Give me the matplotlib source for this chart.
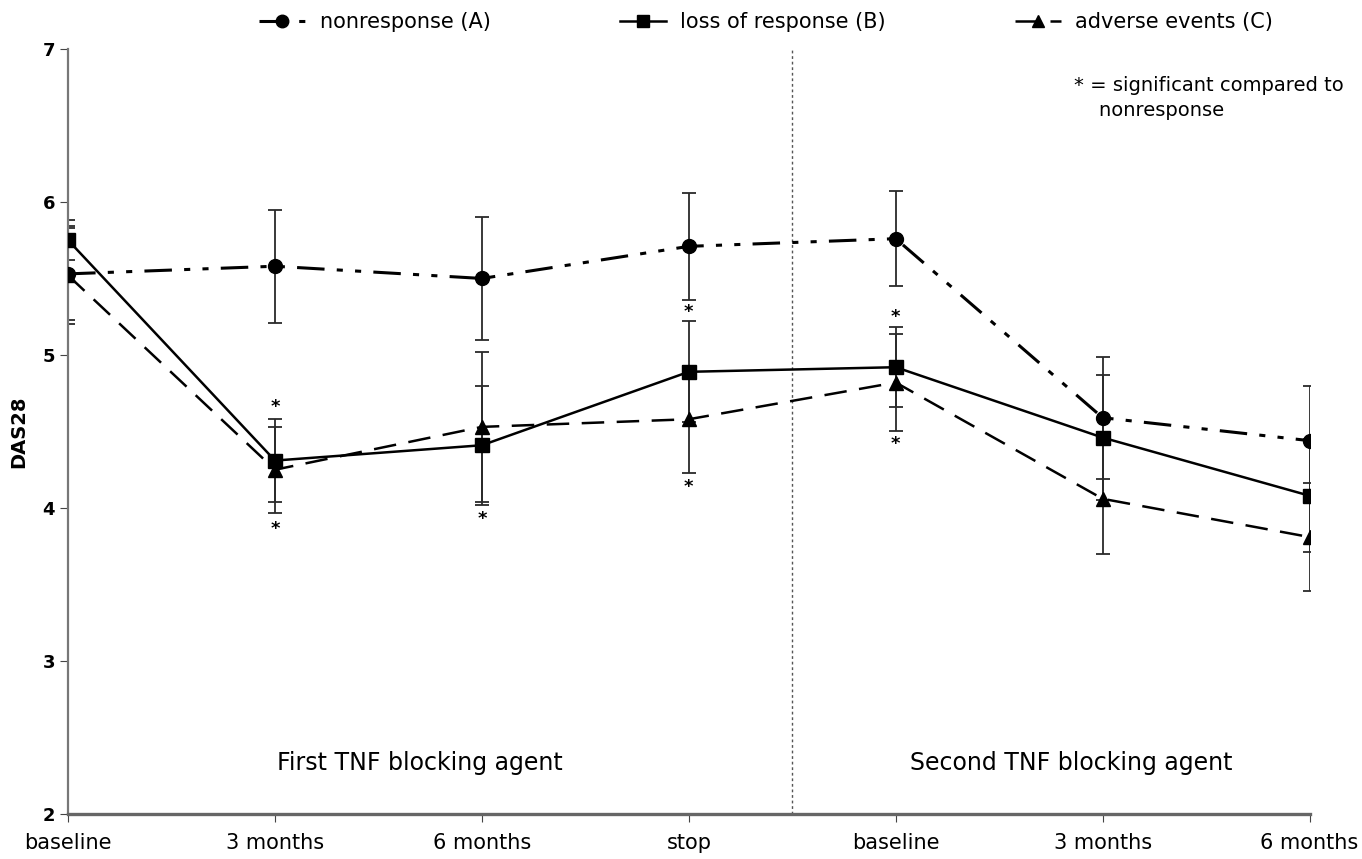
import numpy as np
import matplotlib
matplotlib.use("Agg")
import matplotlib.pyplot as plt

# time points (two treatment periods)
categories = ["baseline", "3 months", "6 months", "stop",
              "baseline", "3 months", "6 months"]

# mean DAS28 per group
nonresp = [5.53, 5.58, 5.50, 5.71, 5.76, 4.59, 4.44]
nonresp_err = [0.30, 0.37, 0.40, 0.35, 0.31, 0.40, 0.36]
loss = [5.75, 4.31, 4.41, 4.89, 4.92, 4.46, 4.08]
loss_err = [0.13, 0.27, 0.39, 0.33, 0.26, 0.41, 0.37]
adverse = [5.52, 4.25, 4.53, 4.58, 4.82, 4.06, 3.81]
adverse_err = [0.32, 0.28, 0.49, 0.35, 0.32, 0.36, 0.35]

# significance stars (category index, DAS28 level)
star_x = [1, 1, 2, 3, 3, 4, 4]
star_y = [4.66, 3.86, 3.93, 5.28, 4.14, 5.25, 4.42]

plt.rcParams['font.family'] = 'DejaVu Sans'

fig = plt.figure(figsize=(13.62, 8.59), dpi=100)
ax = fig.add_axes([0.050, 0.0524, 0.9115, 0.8906])

x = np.arange(len(categories))

for vals, errs in [(nonresp, nonresp_err), (loss, loss_err),
                   (adverse, adverse_err)]:
    ax.errorbar(x, vals, yerr=errs, fmt='none', ecolor='#2a2a2a',
                elinewidth=1.3, capsize=5, capthick=1.3, zorder=2)

lA, = ax.plot(x, nonresp, color='black', lw=2.2, marker='o', ms=10,
              dashes=(9, 4, 2, 4, 2, 4), label='nonresponse (A)', zorder=3)
lB, = ax.plot(x, loss, color='black', lw=1.8, marker='s', ms=10,
              label='loss of response (B)', zorder=3)
lC, = ax.plot(x, adverse, color='black', lw=1.8, marker='^', ms=10,
              dashes=(9, 5), label='adverse events (C)', zorder=3)

for sx, sy in zip(star_x, star_y):
    ax.text(sx, sy, '*', ha='center', va='center', fontsize=13,
            fontweight='bold')

ax.axvline(3.5, color='#555555', lw=1, ls=(0, (2, 2)), zorder=1)

ax.text(1.7, 2.33, 'First TNF blocking agent', ha='center', va='center',
        fontsize=17)
ax.text(4.85, 2.33, 'Second TNF blocking agent', ha='center', va='center',
        fontsize=17)
ax.text(4.86, 6.68, '* = significant compared to\n    nonresponse',
        ha='left', va='center', fontsize=14, linespacing=1.4)

ax.set_xlim(0, 6)
ax.set_ylim(2, 7)
ax.set_xticks(x)
ax.set_xticklabels(categories, fontsize=15)
ax.set_yticks([2, 3, 4, 5, 6, 7])
ax.set_yticklabels(['2', '3', '4', '5', '6', '7'], fontsize=13,
                   fontweight='bold')
ax.set_ylabel('DAS28', fontsize=14, fontweight='bold', labelpad=10)
ax.tick_params(axis='x', length=6, pad=8, color='#444444')
ax.tick_params(axis='y', length=6, color='#444444')

ax.spines['top'].set_visible(False)
ax.spines['right'].set_visible(False)
ax.spines['left'].set_color('#777777')
ax.spines['left'].set_linewidth(1.6)
ax.spines['bottom'].set_color('#666666')
ax.spines['bottom'].set_linewidth(2.4)

fig.legend(handles=[lA, lB, lC], loc='upper center', ncol=3,
           bbox_to_anchor=(0.5626, 1.008), frameon=False, fontsize=15,
           handlelength=2.2, handletextpad=0.7, columnspacing=6.2,
           markerscale=0.9)

fig.savefig('out.png', dpi=100)
